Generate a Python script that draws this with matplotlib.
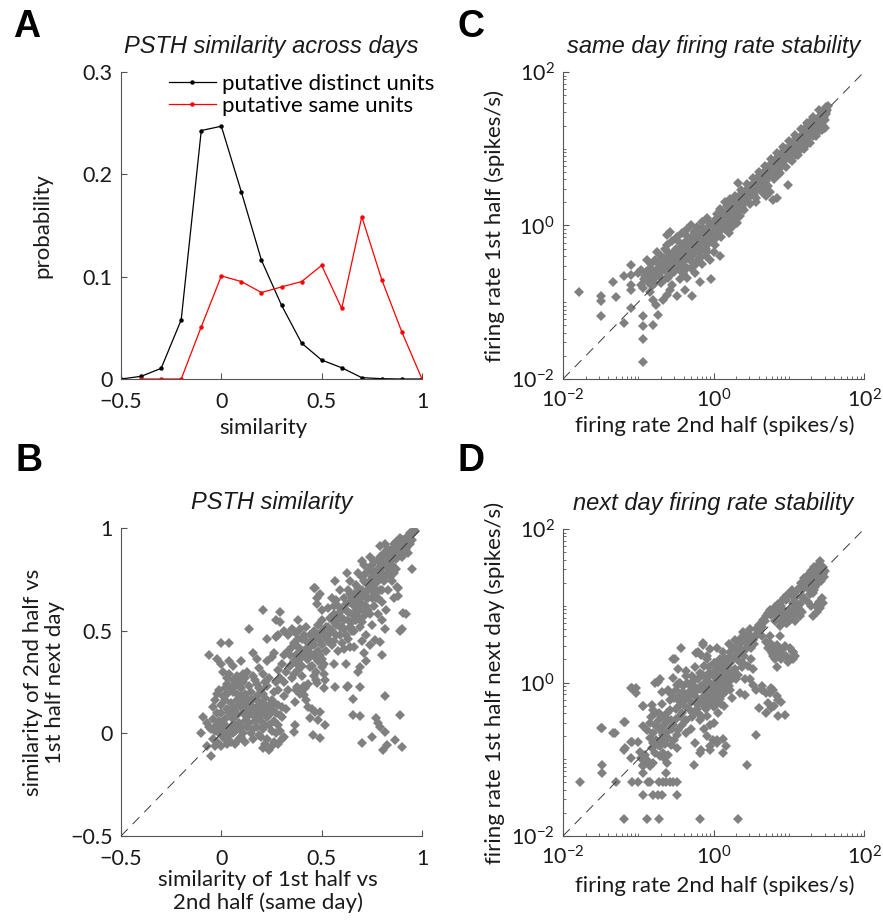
import matplotlib
matplotlib.use("Agg")
import matplotlib.pyplot as plt
import numpy as np
from matplotlib.ticker import FixedLocator, FixedFormatter, LogLocator, NullFormatter

# ---------------- data ----------------
# Panel A: PSTH similarity histogram
a_similarity = [-0.5, -0.4, -0.3, -0.2, -0.1, 0.0, 0.1, 0.2, 0.3, 0.4, 0.5, 0.6, 0.7, 0.8, 0.9, 1.0]
a_distinct = [0.0, 0.0026, 0.0104, 0.0578, 0.2428, 0.247, 0.1826, 0.116, 0.0721, 0.0351,
              0.0185, 0.011, 0.0013, 0.0003, 0.0, 0.0]
a_same_sim = [-0.4, -0.3, -0.2, -0.1, 0.0, 0.1, 0.2, 0.3, 0.4, 0.5, 0.6, 0.7, 0.8, 0.9, 1.0]
a_same = [0.0, 0.0, 0.0, 0.051, 0.1007, 0.0952, 0.0845, 0.090, 0.0952, 0.111, 0.0689, 0.1586,
          0.0968, 0.0458, 0.0]
a_labels = ["putative distinct units", "putative same units"]

# Panel B: (same-day similarity, next-day similarity)
b_points = [
    (-0.10, 0.00), (-0.09, 0.08), (-0.07, 0.05), (-0.06, 0.03), (-0.07, -0.06), (-0.05, -0.11), (-0.04, -0.03),
    (-0.03, 0.01), (-0.02, -0.04), (-0.01, 0.00), (0.00, -0.06), (0.01, -0.02), (0.02, -0.03), (0.03, -0.05),
    (-0.03, 0.16), (-0.02, 0.19), (-0.01, 0.21), (-0.04, 0.13), (0.00, 0.10), (-0.04, 0.07), (-0.01, 0.06),
    (-0.06, 0.38), (0.00, 0.44), (-0.02, 0.36), (0.00, 0.34), (0.04, 0.35), (0.06, 0.33), (0.04, 0.29),
    (0.03, 0.27), (0.06, 0.26), (0.08, 0.28), (0.10, 0.35), (0.11, 0.29), (0.06, 0.20), (0.08, 0.16),
    (0.10, 0.13), (0.11, 0.10), (0.13, 0.11), (0.14, 0.15), (0.15, 0.10), (0.16, 0.13), (0.18, 0.11),
    (0.19, 0.08), (0.21, 0.10), (0.12, 0.06), (0.06, 0.07), (0.09, 0.05), (0.13, 0.03), (0.16, 0.02),
    (0.20, -0.02), (0.23, -0.03), (0.26, -0.04), (0.30, -0.03), (0.31, -0.02), (0.21, -0.07), (0.24, -0.08),
    (0.16, 0.28), (0.18, 0.24), (0.20, 0.21), (0.21, 0.19), (0.23, 0.23), (0.25, 0.16), (0.26, 0.20),
    (0.28, 0.21), (0.30, 0.13), (0.31, 0.18), (0.33, 0.21), (0.16, 0.39), (0.18, 0.36), (0.19, 0.32),
    (0.21, 0.29), (0.23, 0.35), (0.25, 0.37), (0.26, 0.39), (0.28, 0.31), (0.30, 0.34), (0.31, 0.38),
    (0.27, 0.47), (0.28, 0.48), (0.31, 0.50), (0.33, 0.48), (0.35, 0.51), (0.37, 0.49), (0.39, 0.51),
    (0.21, 0.60), (0.29, 0.59), (0.27, 0.55), (0.29, 0.54), (0.14, 0.51), (0.23, 0.46), (0.04, 0.44),
    (0.01, 0.30), (0.02, 0.22), (0.05, 0.15), (0.03, 0.12), (0.07, 0.01), (0.10, -0.02), (0.12, 0.19),
    (0.14, 0.23), (0.10, 0.22), (0.08, 0.24), (0.13, 0.30), (0.15, 0.20), (0.17, 0.17), (0.19, 0.14),
    (0.22, 0.13), (0.24, 0.09), (0.26, 0.06), (0.28, 0.04), (0.17, 0.06), (0.22, 0.04), (0.25, 0.01),
    (0.02, 0.07), (0.05, 0.03), (0.08, 0.09),
    (-0.05, 0.02), (-0.03, -0.06), (-0.02, 0.04), (0.00, 0.02), (0.01, 0.05), (0.02, 0.01), (0.03, 0.03),
    (0.04, -0.01), (0.05, -0.04), (0.06, 0.00), (0.07, -0.05), (0.08, 0.02), (0.09, -0.03), (0.10, 0.03),
    (0.11, 0.00), (0.12, -0.04), (0.13, 0.08), (0.14, 0.05), (0.15, 0.00), (0.16, -0.03), (0.17, 0.09),
    (0.18, 0.03), (0.19, -0.01), (0.20, 0.06), (0.21, 0.02), (0.22, -0.05), (0.23, 0.08), (0.24, 0.04),
    (0.25, -0.06), (0.27, 0.00), (0.28, -0.05), (0.29, 0.01), (0.00, 0.14), (0.01, 0.18), (0.02, 0.16),
    (0.03, 0.19), (0.04, 0.10), (0.05, 0.22), (0.06, 0.13), (0.07, 0.11), (0.08, 0.19), (0.09, 0.14),
    (0.10, 0.18), (0.11, 0.15), (0.12, 0.13), (0.13, 0.17), (0.14, 0.12), (0.15, 0.16), (0.16, 0.09),
    (0.17, 0.12), (0.18, 0.16), (0.19, 0.19), (0.20, 0.12), (0.21, 0.15), (0.22, 0.17), (0.23, 0.11),
    (0.24, 0.14), (0.25, 0.12), (0.26, 0.15), (0.27, 0.10), (0.28, 0.14), (0.29, 0.09), (0.30, 0.08),
    (0.32, 0.12), (0.03, 0.24), (0.07, 0.23), (0.09, 0.26), (0.11, 0.25), (0.12, 0.27), (0.17, 0.26),
    (0.19, 0.22), (0.22, 0.25), (0.24, 0.27), (0.27, 0.25), (0.29, 0.27), (0.31, 0.25), (0.32, 0.30),
    (0.34, 0.33), (-0.02, 0.10), (-0.03, 0.03), (0.05, 0.09), (0.07, 0.04),
    (0.34, 0.38), (0.36, 0.35), (0.38, 0.31), (0.35, 0.27), (0.37, 0.21), (0.39, 0.19), (0.41, 0.23),
    (0.42, 0.16), (0.36, 0.44), (0.38, 0.42), (0.40, 0.46), (0.41, 0.40), (0.43, 0.36), (0.45, 0.33),
    (0.47, 0.30), (0.44, 0.48), (0.46, 0.43), (0.48, 0.40), (0.49, 0.45), (0.43, 0.24), (0.47, 0.26),
    (0.50, 0.36), (0.46, 0.71), (0.49, 0.68), (0.48, 0.53), (0.50, 0.50), (0.42, 0.52), (0.38, 0.55),
    (0.36, 0.50), (0.41, 0.48), (0.39, 0.41), (0.425, 0.36), (0.44, 0.325), (0.46, 0.28), (0.375, 0.34),
    (0.36, 0.29), (0.40, 0.28), (0.417, 0.227), (0.375, 0.227),
    (0.467, 0.707), (0.475, 0.66), (0.475, 0.63), (0.50, 0.60), (0.567, 0.74), (0.625, 0.78), (0.70, 0.84),
    (0.79, 0.91), (0.815, 0.92), (0.84, 0.88), (0.87, 0.886), (0.907, 0.943), (0.94, 0.976), (0.965, 0.983),
    (0.95, 0.80), (0.874, 0.715), (0.88, 0.67), (0.907, 0.585), (0.89, 0.50), (0.80, 0.55), (0.815, 0.51),
    (0.766, 0.455), (0.79, 0.447), (0.71, 0.39), (0.80, 0.38), (0.69, 0.325), (0.64, 0.42), (0.66, 0.42),
    (0.61, 0.41), (0.62, 0.34), (0.56, 0.34), (0.51, 0.34), (0.467, 0.374), (0.567, 0.227), (0.625, 0.227),
    (0.69, 0.227), (0.50, 0.325), (0.51, 0.29), (0.517, 0.26),
    (0.52, 0.47), (0.53, 0.52), (0.54, 0.56), (0.55, 0.50), (0.56, 0.58), (0.57, 0.53), (0.58, 0.62),
    (0.59, 0.48), (0.60, 0.56), (0.61, 0.66), (0.61, 0.51), (0.62, 0.60), (0.63, 0.70), (0.63, 0.55),
    (0.64, 0.64), (0.65, 0.58), (0.65, 0.50), (0.66, 0.68), (0.66, 0.62), (0.67, 0.55), (0.67, 0.72),
    (0.68, 0.65), (0.68, 0.59), (0.69, 0.52), (0.69, 0.70), (0.70, 0.63), (0.70, 0.76), (0.71, 0.57),
    (0.71, 0.68), (0.72, 0.73), (0.72, 0.62), (0.73, 0.79), (0.73, 0.66), (0.74, 0.58), (0.74, 0.71),
    (0.75, 0.76), (0.75, 0.82), (0.76, 0.68), (0.76, 0.62), (0.77, 0.78), (0.77, 0.73), (0.78, 0.84),
    (0.78, 0.66), (0.79, 0.80), (0.79, 0.75), (0.80, 0.86), (0.80, 0.70), (0.81, 0.82), (0.82, 0.77),
    (0.82, 0.88), (0.83, 0.84), (0.84, 0.80), (0.85, 0.90), (0.85, 0.85), (0.86, 0.78), (0.87, 0.93),
    (0.88, 0.88), (0.89, 0.91), (0.90, 0.86), (0.91, 0.94), (0.92, 0.90), (0.93, 0.95), (0.94, 0.92),
    (0.95, 0.97), (0.96, 0.99), (0.93, 0.88), (0.60, 0.44), (0.58, 0.40), (0.63, 0.46), (0.55, 0.43),
    (0.57, 0.65), (0.59, 0.70), (0.55, 0.66), (0.53, 0.61), (0.64, 0.74), (0.68, 0.78), (0.71, 0.82),
    (0.74, 0.86), (0.77, 0.70), (0.80, 0.64), (0.83, 0.70), (0.85, 0.74), (0.86, 0.66), (0.82, 0.60),
    (0.78, 0.58), (0.75, 0.53), (0.72, 0.48), (0.70, 0.45), (0.74, 0.43), (0.92, 0.58), (0.90, 0.51),
    (0.72, 0.35), (0.68, 0.30), (0.88, 0.71),
    (0.33, 0.40), (0.35, 0.42), (0.37, 0.38), (0.39, 0.36), (0.40, 0.33), (0.42, 0.45), (0.43, 0.42),
    (0.44, 0.39), (0.45, 0.45), (0.46, 0.50), (0.47, 0.47), (0.48, 0.35), (0.49, 0.38), (0.50, 0.43),
    (0.51, 0.48), (0.52, 0.40), (0.53, 0.45), (0.54, 0.49), (0.55, 0.55), (0.56, 0.45), (0.57, 0.48),
    (0.58, 0.55), (0.59, 0.52), (0.60, 0.60), (0.61, 0.55), (0.62, 0.48), (0.62, 0.63), (0.63, 0.59),
    (0.64, 0.52), (0.64, 0.68), (0.65, 0.66), (0.65, 0.54), (0.66, 0.58), (0.66, 0.50), (0.67, 0.62),
    (0.67, 0.68), (0.68, 0.56), (0.68, 0.71), (0.69, 0.62), (0.69, 0.66), (0.70, 0.54), (0.70, 0.70),
    (0.71, 0.60), (0.71, 0.74), (0.72, 0.66), (0.72, 0.78), (0.73, 0.70), (0.73, 0.60), (0.74, 0.74),
    (0.74, 0.80), (0.75, 0.66), (0.75, 0.72), (0.76, 0.78), (0.76, 0.84), (0.77, 0.75), (0.77, 0.66),
    (0.78, 0.80), (0.78, 0.76), (0.79, 0.86), (0.79, 0.70), (0.80, 0.82), (0.80, 0.78), (0.81, 0.88),
    (0.81, 0.74), (0.82, 0.84), (0.83, 0.80), (0.83, 0.90), (0.84, 0.86), (0.84, 0.76), (0.85, 0.82),
    (0.86, 0.88), (0.86, 0.92), (0.87, 0.85), (0.88, 0.92), (0.89, 0.87), (0.90, 0.90), (0.91, 0.92),
    (0.92, 0.95), (0.93, 0.92), (0.94, 0.96), (0.95, 0.94), (0.89, 0.95), (0.91, 0.88), (0.87, 0.80),
    (0.58, 0.58), (0.60, 0.52), (0.56, 0.62), (0.54, 0.45), (0.52, 0.52), (0.50, 0.55), (0.48, 0.48),
    (0.46, 0.38), (0.44, 0.42), (0.42, 0.40), (0.40, 0.38), (0.38, 0.46),
    (0.39, 0.21), (0.417, 0.22), (0.41, 0.187), (0.475, 0.244), (0.51, 0.22), (0.63, 0.23), (0.367, 0.154),
    (0.433, 0.13), (0.45, 0.12), (0.467, 0.105), (0.49, 0.105), (0.44, 0.073), (0.483, 0.065), (0.517, 0.04),
    (0.367, 0.04), (0.36, 0.008), (0.458, -0.008), (0.49, -0.024), (0.658, 0.167), (0.658, 0.089),
    (0.69, 0.086), (0.815, 0.182), (0.89, 0.089), (0.77, 0.073), (0.78, 0.049), (0.79, 0.032), (0.815, 0.008),
    (0.70, -0.049), (0.75, -0.016), (0.807, -0.08), (0.824, -0.057), (0.865, -0.033), (0.90, -0.065),
]

# Panel C: log10 firing rate (2nd half, 1st half), same day
c_log_points = [
    (-1.79, -0.87), (-1.49, -0.92), (-1.49, -0.99), (-1.49, -1.18), (-1.33, -0.73), (-1.30, -0.93),
    (-1.19, -0.66), (-1.19, -1.27), (-1.09, -0.51), (-1.09, -0.64), (-1.09, -0.77), (-1.09, -0.84),
    (-1.09, -1.08), (-0.94, -0.82), (-0.94, -1.18), (-0.94, -1.31), (-0.94, -1.48), (-0.94, -1.78),
    (-1.00, -0.62), (-0.96, -0.58), (-0.91, -0.66), (-0.87, -0.73), (-0.82, -0.79), (-0.78, -0.75),
    (-0.85, -0.86), (-0.80, -0.97), (-0.76, -1.03), (-0.74, -1.16), (-0.80, -1.29), (-0.67, -0.97),
    (-0.62, -0.90), (-0.58, -0.84), (-0.49, -0.92), (-0.38, -0.84), (-0.29, -0.92), (-0.18, -0.73),
    (-0.03, -0.70), (-0.62, -0.12), (-0.58, -0.08), (0.08, -0.40),
    (-0.85, -0.55), (-0.80, -0.60), (-0.78, -0.45), (-0.75, -0.65), (-0.72, -0.50), (-0.70, -0.40),
    (-0.68, -0.58), (-0.65, -0.70), (-0.63, -0.45), (-0.60, -0.35), (-0.58, -0.55), (-0.55, -0.62),
    (-0.52, -0.42), (-0.50, -0.30), (-0.48, -0.50), (-0.45, -0.58), (-0.43, -0.38), (-0.40, -0.25),
    (-0.38, -0.45), (-0.35, -0.55), (-0.33, -0.32), (-0.30, -0.20), (-0.28, -0.40), (-0.25, -0.28),
    (-0.23, -0.50), (-0.20, -0.15), (-0.18, -0.35), (-0.15, -0.22), (-0.13, -0.05), (-0.10, -0.30),
    (-0.08, -0.12), (-0.05, -0.20), (-0.03, 0.02), (0.00, -0.08), (0.02, -0.25), (0.03, 0.08),
    (0.05, -0.03), (0.08, 0.05), (0.10, -0.15), (0.12, 0.12), (-0.70, -0.75), (-0.60, -0.68),
    (-0.55, -0.78), (-0.45, -0.70), (-0.40, -0.62), (-0.35, -0.68), (-0.30, -0.55), (-0.25, -0.62),
    (-0.20, -0.45), (-0.15, -0.50), (-0.10, -0.40), (-0.05, -0.45), (0.00, -0.35), (-0.62, -0.25),
    (-0.55, -0.20), (-0.48, -0.15), (-0.42, -0.10), (-0.35, -0.05), (-0.30, 0.00), (-0.22, -0.02),
    (-0.15, 0.05), (-0.08, 0.10), (-0.50, -0.40), (-0.40, -0.35), (-0.30, -0.30), (-0.20, -0.25),
    (-0.10, -0.20), (-0.65, -0.30), (-0.75, -0.35), (-0.88, -0.45), (-0.92, -0.70), (-0.97, -0.78),
    (-0.90, -0.60), (-0.86, -0.65), (-0.83, -0.50), (-0.80, -0.70), (-0.77, -0.58), (-0.74, -0.48),
    (-0.71, -0.62), (-0.69, -0.52), (-0.66, -0.42), (-0.64, -0.58), (-0.61, -0.50), (-0.59, -0.40),
    (-0.57, -0.62), (-0.54, -0.48), (-0.52, -0.35), (-0.50, -0.55), (-0.47, -0.42), (-0.45, -0.30),
    (-0.43, -0.50), (-0.41, -0.40), (-0.39, -0.30), (-0.37, -0.20), (-0.35, -0.42), (-0.33, -0.25),
    (-0.31, -0.38), (-0.29, -0.15), (-0.27, -0.30), (-0.25, -0.20), (-0.23, -0.35), (-0.21, -0.10),
    (-0.19, -0.25), (-0.17, -0.15), (-0.15, -0.32), (-0.13, -0.20), (-0.11, -0.08), (-0.09, -0.25),
    (-0.07, -0.02), (-0.05, -0.10), (-0.03, -0.18), (-0.01, 0.00), (0.01, -0.12), (0.03, -0.05),
    (0.05, 0.05), (0.07, -0.08), (0.09, 0.10), (0.11, 0.00), (-0.45, -0.48), (-0.38, -0.55),
    (-0.28, -0.48), (-0.18, -0.42), (-0.08, -0.35), (0.02, -0.18), (-0.52, -0.60), (-0.60, -0.60),
    (-0.70, -0.68), (-0.46, -0.22), (-0.36, -0.12), (-0.26, -0.08), (-0.16, -0.05), (-0.06, 0.05),
    (0.04, 0.00),
    (0.10, 0.02), (0.12, 0.18), (0.14, 0.08), (0.15, -0.05), (0.17, 0.15), (0.18, 0.25), (0.20, 0.10),
    (0.22, 0.05), (0.23, 0.20), (0.25, 0.30), (0.26, 0.12), (0.28, 0.22), (0.30, 0.35), (0.31, 0.18),
    (0.33, 0.28), (0.35, 0.40), (0.36, 0.25), (0.38, 0.33), (0.40, 0.42), (0.41, 0.30), (0.43, 0.38),
    (0.45, 0.48), (0.46, 0.36), (0.48, 0.44), (0.50, 0.52), (0.20, -0.10), (0.25, -0.02), (0.30, 0.05),
    (0.05, 0.15), (0.08, 0.22), (0.15, 0.30), (0.22, 0.35),
    (0.52, 0.42), (0.54, 0.55), (0.55, 0.48), (0.57, 0.60), (0.58, 0.52), (0.60, 0.58), (0.62, 0.66),
    (0.63, 0.55), (0.65, 0.62), (0.67, 0.70), (0.68, 0.60), (0.70, 0.68), (0.72, 0.75), (0.73, 0.64),
    (0.75, 0.72), (0.77, 0.80), (0.78, 0.70), (0.80, 0.78), (0.82, 0.85), (0.83, 0.75), (0.85, 0.82),
    (0.87, 0.90), (0.88, 0.80), (0.90, 0.88), (0.92, 0.95), (0.93, 0.84), (0.95, 0.92), (0.97, 1.00),
    (0.98, 0.88), (1.00, 0.96), (0.60, 0.48), (0.65, 0.52), (0.70, 0.58), (0.80, 0.68), (0.90, 0.76),
    (1.02, 1.04), (1.03, 0.93), (1.05, 1.00), (1.07, 1.08), (1.08, 0.98), (1.10, 1.05), (1.12, 1.12),
    (1.13, 1.02), (1.15, 1.10), (1.17, 1.18), (1.18, 1.06), (1.20, 1.14), (1.22, 1.22), (1.23, 1.12),
    (1.25, 1.20), (1.27, 1.28), (1.28, 1.18), (1.30, 1.26), (1.32, 1.34), (1.33, 1.24), (1.35, 1.31),
    (1.37, 1.38), (1.38, 1.28), (1.40, 1.36), (1.42, 1.42), (1.43, 1.33), (1.45, 1.40), (1.47, 1.48),
    (1.48, 1.38), (1.50, 1.52), (1.52, 1.56), (1.50, 1.45), (1.46, 1.30), (1.44, 1.24), (1.10, 0.92),
    (1.15, 0.98), (1.20, 1.02),
    (0.12, 0.05), (0.13, -0.02), (0.16, 0.10), (0.17, 0.02), (0.19, 0.18), (0.21, 0.12), (0.22, 0.20),
    (0.24, 0.15), (0.26, 0.24), (0.27, 0.18), (0.29, 0.28), (0.30, 0.20), (0.32, 0.24), (0.34, 0.32),
    (0.35, 0.22), (0.37, 0.36), (0.39, 0.28), (0.40, 0.34), (0.42, 0.40), (0.44, 0.32), (0.45, 0.42),
    (0.47, 0.38), (0.49, 0.46), (0.50, 0.40), (0.52, 0.50), (0.53, 0.44), (0.55, 0.54), (0.56, 0.46),
    (0.58, 0.56), (0.59, 0.50), (0.61, 0.60), (0.62, 0.54), (0.64, 0.58), (0.66, 0.64), (0.67, 0.56),
    (0.69, 0.66), (0.71, 0.62), (0.72, 0.70), (0.74, 0.66), (0.76, 0.74), (0.77, 0.68), (0.79, 0.76),
    (0.81, 0.72), (0.82, 0.80), (0.84, 0.76), (0.86, 0.84), (0.87, 0.78), (0.89, 0.86), (0.91, 0.82),
    (0.92, 0.90), (0.94, 0.86), (0.96, 0.94), (0.97, 0.88), (0.99, 0.96), (1.01, 0.92), (1.02, 1.00),
    (1.04, 0.96), (1.06, 1.04), (1.07, 0.98), (1.09, 1.08), (1.11, 1.02), (1.12, 1.08), (1.14, 1.06),
    (1.16, 1.14), (1.17, 1.08), (1.19, 1.18), (1.21, 1.12), (1.22, 1.18), (1.24, 1.16), (1.26, 1.24),
    (1.27, 1.18), (1.29, 1.28), (1.31, 1.22), (1.32, 1.28), (1.34, 1.26), (1.36, 1.34), (1.37, 1.30),
    (1.39, 1.40), (1.41, 1.34), (1.42, 1.38), (1.44, 1.36), (1.46, 1.44), (1.47, 1.42), (1.49, 1.48),
    (1.51, 1.50),
    (0.20, 0.30), (0.28, 0.38), (0.36, 0.46), (0.44, 0.54), (0.52, 0.62), (0.60, 0.70), (0.68, 0.78),
    (0.76, 0.86), (0.84, 0.94), (0.92, 1.02), (1.00, 1.10), (1.08, 1.18), (1.16, 1.26), (1.24, 1.34),
    (1.32, 1.42), (1.40, 1.50), (0.24, 0.04), (0.32, 0.12), (0.40, 0.20), (0.48, 0.28), (0.56, 0.36),
    (0.64, 0.44), (0.72, 0.52), (0.80, 0.60), (0.88, 0.68), (0.96, 0.76), (1.04, 0.84), (1.12, 0.92),
    (1.20, 1.00), (1.28, 1.08), (1.36, 1.16), (0.22, 0.14), (0.30, 0.26), (0.38, 0.24), (0.46, 0.44),
    (0.54, 0.40), (0.62, 0.62), (0.70, 0.50), (0.78, 0.82), (0.86, 0.66), (0.94, 0.98), (1.02, 0.86),
    (1.10, 1.14), (1.18, 1.02), (1.26, 1.30), (1.34, 1.18), (1.42, 1.30),
    (1.50, 1.55), (1.44, 1.46), (1.37, 1.33), (1.28, 1.35), (1.24, 1.29), (1.48, 1.27), (1.37, 1.20),
    (1.32, 1.16), (1.26, 1.09), (0.99, 0.53), (0.75, 0.44), (0.70, 0.38), (0.79, 0.33), (0.84, 0.36),
    (0.57, 0.31), (0.33, 0.55), (0.31, 0.03), (0.35, 0.12),
]

# Panel D: log10 firing rate (2nd half, 1st half next day)
d_log_points = [
    (-1.78, -1.30), (-1.48, -0.59), (-1.48, -1.07), (-1.48, -1.18), (-1.33, -0.66), (-1.30, -1.30),
    (-1.19, -0.52), (-1.19, -0.88), (-1.19, -1.78), (-1.08, -0.07), (-1.03, -0.07), (-1.03, -0.14),
    (-1.08, -0.77), (-1.08, -1.30), (-1.00, -1.30), (-0.94, -0.31), (-0.94, -1.01), (-0.94, -1.09),
    (-0.94, -1.18), (-0.94, -1.47), (-0.88, -1.78), (-0.87, -1.30), (-0.84, -1.30), (-0.80, -1.47),
    (-0.74, -1.47), (-0.69, -1.47), (-0.72, -1.78), (-0.74, 0.01), (-0.72, -1.30), (-0.67, -1.30),
    (-0.63, -1.30), (-0.58, -1.30), (-0.54, -1.30), (-0.48, -1.30), (-0.48, -1.47), (-0.63, -1.18),
    (-0.54, 0.30), (-0.60, -0.10), (-0.58, -0.23), (-0.26, -1.07), (-0.18, -1.78), (0.32, -1.78),
    (0.44, -1.07), (0.56, -0.69),
    (0.65, -0.10), (0.75, -0.14), (0.79, -0.10), (0.72, -0.27), (0.76, -0.33), (0.81, -0.31),
    (0.86, -0.23), (0.90, -0.25), (0.95, -0.42), (0.86, -0.44), (0.61, -0.33), (0.70, -0.40),
    (0.13, -0.73), (0.17, -0.83), (0.13, -0.92), (0.04, -0.79), (-0.05, -0.88), (-0.18, -0.92),
    (-0.01, -0.75), (-0.09, -0.70),
    (1.44, 1.51), (1.46, 1.42), (1.37, 1.40), (1.24, 1.34), (1.21, 1.27), (1.28, 1.21), (1.32, 1.16),
    (1.35, 1.25), (1.46, 1.03), (1.41, 0.97), (1.37, 0.92), (1.32, 0.86), (1.01, 1.16), (1.06, 1.12),
    (0.97, 1.08), (1.10, 1.03), (1.15, 0.95), (1.06, 0.90), (1.01, 0.82), (0.97, 0.77), (0.93, 0.86),
    (0.88, 0.95), (0.82, 0.99), (0.75, 0.95), (0.70, 0.86), (0.66, 0.82),
    (0.88, 0.60), (0.84, 0.49), (0.93, 0.43), (0.97, 0.34), (0.90, 0.30), (1.01, 0.30), (1.06, 0.40),
    (0.79, 0.43), (0.75, 0.51), (0.70, 0.53),
    (0.62, 0.69), (0.57, 0.62), (0.64, 0.60), (0.39, 0.66), (0.37, 0.58), (0.44, 0.51), (0.50, 0.45),
    (0.33, 0.38), (0.26, 0.45), (0.22, 0.34), (0.31, 0.30), (0.39, 0.25), (0.46, 0.21), (0.53, 0.17),
    (-0.14, 0.51), (-0.05, 0.43), (0.04, 0.45), (-0.23, 0.38), (-0.09, 0.30), (0.00, 0.25), (0.08, 0.30),
    (0.13, 0.21), (0.17, 0.12),
    (0.57, -0.10), (0.64, -0.05), (0.77, -0.07), (0.84, -0.18), (0.70, -0.14), (0.48, 0.04), (0.53, -0.03),
    (0.42, -0.16), (0.35, -0.14),
    (-0.43, 0.45), (-0.14, 0.49), (-0.20, 0.40), (-0.16, 0.36), (-0.09, 0.34), (-0.51, 0.30), (-0.47, 0.17),
    (-0.78, 0.00), (-0.71, 0.04), (-0.69, -0.12), (-0.58, -0.14), (-0.49, -0.03), (-1.09, -0.07),
    (-0.94, -0.31), (-0.82, -0.29), (-0.80, -0.36), (-1.18, -0.51), (-1.49, -0.59), (-1.31, -0.66),
    (-1.18, -0.85), (-1.09, -0.77), (-1.00, -0.77), (-1.09, -0.98), (-0.96, -0.98), (-0.91, -0.94),
    (-0.98, -0.90),
    (-0.94, -0.57), (-0.89, -0.62), (-0.85, -0.53), (-0.80, -0.66), (-0.76, -0.57), (-0.71, -0.62),
    (-0.67, -0.68), (-0.62, -0.64), (-0.85, -0.72), (-0.80, -0.79), (-0.76, -0.75), (-0.71, -0.83),
    (-0.67, -0.92), (-0.71, -0.96), (-0.80, -1.05), (-0.85, -1.09), (-0.89, -1.01), (-0.94, -1.07),
    (-0.60, -0.94), (-0.62, -1.05),
    (-0.54, 0.06), (-0.45, -0.01), (-0.36, 0.09), (-0.27, 0.02), (-0.18, 0.13), (-0.09, 0.06), (0.00, 0.09),
    (0.04, 0.17), (-0.49, -0.20), (-0.40, -0.23), (-0.32, -0.16), (-0.23, -0.27), (-0.14, -0.20),
    (-0.05, -0.16), (0.04, -0.27), (-0.45, -0.44), (-0.36, -0.49), (-0.27, -0.40), (-0.18, -0.49),
    (-0.09, -0.44), (0.00, -0.53), (-0.36, -0.66), (-0.25, -0.79), (-0.16, -0.88), (-0.05, -0.83),
    (0.04, -0.75), (-0.58, -0.36), (-0.56, -0.49),
    (0.10, 0.00), (0.15, 0.08), (0.20, -0.05), (0.25, 0.10), (0.12, -0.15), (0.18, 0.20), (0.05, 0.05),
    (-0.02, -0.05), (0.08, 0.15), (0.22, 0.25), (0.28, 0.18), (0.30, 0.05), (0.02, 0.25), (-0.06, 0.20),
    (-0.10, -0.08), (0.14, -0.30), (0.24, -0.20), (0.06, -0.40), (-0.12, -0.60),
    (-0.50, -0.10), (-0.46, 0.00), (-0.44, -0.18), (-0.40, -0.05), (-0.38, -0.30), (-0.35, 0.00),
    (-0.33, -0.12), (-0.30, -0.25), (-0.28, 0.08), (-0.26, -0.05), (-0.24, -0.18), (-0.22, -0.35),
    (-0.20, 0.05), (-0.18, -0.08), (-0.16, -0.25), (-0.14, 0.10), (-0.12, -0.02), (-0.10, -0.15),
    (-0.08, -0.30), (-0.06, 0.12), (-0.04, 0.00), (-0.02, -0.12), (0.00, -0.25), (0.02, 0.15),
    (0.04, 0.02), (0.06, -0.10), (0.08, -0.22), (0.10, 0.10), (0.12, 0.05), (0.14, -0.05), (0.16, 0.15),
    (0.18, 0.00), (0.20, 0.10), (0.22, -0.10), (0.24, 0.05), (0.26, 0.15), (-0.42, -0.40), (-0.32, -0.35),
    (-0.20, -0.40), (-0.10, -0.35), (-0.46, -0.30), (-0.52, -0.20), (-0.36, 0.15), (-0.25, 0.20),
    (-0.12, 0.22), (0.06, 0.12), (0.12, 0.22), (-0.55, -0.60), (-0.48, -0.68), (-0.42, -0.55),
    (-0.30, -0.60), (-0.65, -0.45), (-0.72, -0.40), (-0.68, -0.28), (-0.62, -0.50),
    (-0.17, -0.05), (-0.15, -0.20), (-0.13, -0.10), (-0.11, 0.00), (-0.09, -0.22), (-0.07, -0.12),
    (-0.05, -0.03), (-0.03, -0.25), (-0.01, -0.15), (0.01, -0.05), (0.03, -0.20), (0.05, -0.10),
    (0.07, 0.02), (0.09, -0.15), (0.11, -0.05), (0.13, 0.04), (0.15, -0.12), (0.17, -0.02),
    (-0.20, -0.28), (-0.12, -0.30), (0.00, -0.32), (0.10, -0.28), (-0.25, -0.12), (-0.30, -0.05),
    (-0.35, -0.20), (-0.40, -0.12), (-0.45, -0.25), (-0.50, -0.35), (-0.28, -0.45), (-0.38, -0.50),
    (-0.15, -0.45), (-0.05, -0.55),
    (-0.83, -0.45), (-0.78, -0.40), (-0.74, -0.50), (-0.70, -0.45), (-0.66, -0.55), (-0.62, -0.40),
    (-0.58, -0.60), (-0.54, -0.55), (-0.50, -0.48), (-0.47, -0.62), (-0.82, -0.85), (-0.78, -0.92),
    (-0.74, -0.82), (-0.70, -0.75), (-0.65, -0.80), (-0.60, -0.72), (-0.56, -0.82), (-0.52, -0.75),
    (-0.48, -0.85), (-0.66, -0.98),
    (0.10, 0.25), (0.14, 0.32), (0.18, 0.28), (0.22, 0.40), (0.26, 0.30), (0.30, 0.45), (0.34, 0.52),
    (0.38, 0.40), (0.42, 0.55), (0.46, 0.48), (0.50, 0.60), (0.54, 0.50), (0.58, 0.62), (0.20, 0.50),
    (0.28, 0.55), (0.12, 0.40),
    (0.90, 0.80), (0.95, 0.85), (1.00, 0.90), (1.05, 0.95), (1.10, 0.98), (1.15, 1.02), (0.92, 0.95),
    (0.98, 0.78), (1.04, 0.85), (1.08, 0.80), (1.13, 0.88), (1.18, 0.92), (0.85, 0.88), (0.82, 0.80),
    (1.18, 1.20), (1.24, 1.25), (1.30, 1.35), (1.35, 1.42), (1.40, 1.48), (1.45, 1.50), (1.48, 1.45),
    (1.28, 1.15), (1.33, 1.20), (1.38, 1.28), (1.43, 1.32), (1.47, 1.38),
    (0.72, 0.45), (0.78, 0.38), (0.82, 0.30), (0.88, 0.42), (0.95, 0.48), (1.02, 0.45), (1.08, 0.35),
    (0.85, 0.20),
    (0.35, 0.45), (0.40, 0.35), (0.45, 0.55), (0.50, 0.30), (0.55, 0.60), (0.48, 0.70), (0.38, 0.20),
    (0.42, 0.05), (0.33, 0.10), (0.40, 0.65),
    (0.30, 0.35), (0.34, 0.28), (0.36, 0.52), (0.42, 0.42), (0.46, 0.62), (0.52, 0.55), (0.56, 0.70),
    (0.60, 0.75), (0.64, 0.72), (0.68, 0.80), (0.72, 0.90), (0.76, 0.88), (0.80, 0.95), (0.86, 1.02),
    (0.90, 1.00), (0.94, 1.10), (0.98, 1.14), (1.04, 1.20), (1.08, 1.16), (1.12, 1.22), (1.16, 1.30),
    (1.20, 1.36), (1.26, 1.40), (1.30, 1.45), (1.34, 1.50), (1.40, 1.55), (1.42, 1.58), (1.20, 1.10),
    (1.25, 1.05), (1.30, 1.00), (1.36, 1.00), (1.40, 1.05), (1.44, 1.10), (1.30, 1.30), (1.38, 1.35),
    (1.42, 1.45), (1.12, 1.00), (1.02, 0.95), (0.96, 0.92), (1.10, 1.12),
    (0.79, 0.90), (0.84, 0.99), (0.92, 1.08), (1.01, 1.16), (1.06, 1.03), (1.10, 0.95), (1.15, 0.86),
    (0.97, 0.82), (0.88, 0.73), (1.19, 1.25), (1.23, 1.34), (1.17, 1.12),
    (0.79, 0.47), (0.86, 0.38), (0.92, 0.34), (0.99, 0.27), (1.06, 0.30), (1.06, 0.40), (0.75, 0.60),
    (0.79, 0.34),
]

# ---------------- figure ----------------
plt.rcParams['font.family'] = ['Lato', 'DejaVu Sans']
plt.rcParams['mathtext.fontset'] = 'custom'
plt.rcParams['mathtext.rm'] = 'Lato'
plt.rcParams['mathtext.it'] = 'Lato:italic'
plt.rcParams['mathtext.bf'] = 'Lato:bold'
plt.rcParams['lines.scale_dashes'] = False

W, H = 883, 921
fig = plt.figure(figsize=(W / 100, H / 100), dpi=100)


def rect(l, t, r, b):
    return [l / W, 1 - b / H, (r - l) / W, (b - t) / H]


axA = fig.add_axes(rect(121, 72, 422, 379))
axC = fig.add_axes(rect(563, 72, 864, 379))
axB = fig.add_axes(rect(121, 528, 422, 836))
axD = fig.add_axes(rect(563, 529, 864, 836))

SPINE = '#555555'
TXT = '#1a1a1a'
GRAY = '#808080'
TICK_FS = 15.5
LABEL_FS = 16
TITLE_FS = 17


def style(ax):
    for s in ['top', 'right']:
        ax.spines[s].set_visible(False)
    for s in ['left', 'bottom']:
        ax.spines[s].set_color(SPINE)
        ax.spines[s].set_linewidth(0.8)
    ax.tick_params(which='major', direction='in', length=4, width=0.8, color=SPINE,
                   labelsize=TICK_FS, labelcolor=TXT)
    ax.tick_params(axis='y', which='major', pad=6)
    ax.tick_params(axis='x', which='major', pad=9)
    ax.tick_params(which='minor', direction='in', length=2.2, width=0.6, color=SPINE)


def title(ax, text):
    ax.set_title(text, fontsize=TITLE_FS, fontstyle='italic', family=['Liberation Sans'],
                 color=TXT, pad=14)


# ---- Panel A ----
style(axA)
axA.plot(a_similarity, a_distinct, color='k', lw=0.9, marker='o', ms=2.2, label=a_labels[0])
axA.plot(a_same_sim, a_same, color='#ff0000', lw=0.9, marker='o', ms=2.2, label=a_labels[1])
axA.set_xlim(-0.5, 1)
axA.set_ylim(0, 0.3)
axA.xaxis.set_major_locator(FixedLocator([-0.5, 0, 0.5, 1]))
axA.xaxis.set_major_formatter(FixedFormatter(['\u22120.5', '0', '0.5', '1']))
axA.yaxis.set_major_locator(FixedLocator([0, 0.1, 0.2, 0.3]))
axA.yaxis.set_major_formatter(FixedFormatter(['0', '0.1', '0.2', '0.3']))
axA.set_xlabel('similarity', fontsize=LABEL_FS, color=TXT)
axA.set_ylabel('probability', fontsize=LABEL_FS, color=TXT)
axA.xaxis.set_label_coords(0.473, -0.126)
axA.yaxis.set_label_coords(-0.229, 0.5)
title(axA, 'PSTH similarity across days')
axA.legend(loc='upper left', bbox_to_anchor=(169 / W, 1 - 74 / H), bbox_transform=fig.transFigure,
           frameon=False, fontsize=LABEL_FS, handlelength=2.1, handletextpad=0.3,
           labelspacing=0.08, borderpad=0, borderaxespad=0)

# ---- Panel B ----
style(axB)
b_x = [p[0] for p in b_points]
b_y = [p[1] for p in b_points]
axB.plot(b_x, b_y, linestyle='none', marker='D', ms=5, color=GRAY, mec=GRAY, mew=0, zorder=2)
axB.plot([-0.5, 1], [-0.5, 1], color='#3a3a3a', lw=0.7, dashes=(7, 5), zorder=3)
axB.set_xlim(-0.5, 1)
axB.set_ylim(-0.5, 1)
for axis in (axB.xaxis, axB.yaxis):
    axis.set_major_locator(FixedLocator([-0.5, 0, 0.5, 1]))
    axis.set_major_formatter(FixedFormatter(['\u22120.5', '0', '0.5', '1']))
axB.set_xlabel('similarity of 1st half vs\n2nd half (same day)', fontsize=LABEL_FS, color=TXT,
               linespacing=1.1)
axB.set_ylabel('similarity of 2nd half vs\n1st half next day', fontsize=LABEL_FS, color=TXT,
               linespacing=1.1)
axB.xaxis.set_label_coords(0.488, -0.112)
axB.yaxis.set_label_coords(-0.186, 0.5)
title(axB, 'PSTH similarity')


# ---- Panels C and D ----
def log_panel(ax, pts, ylabel, ttl):
    style(ax)
    xs = [10 ** p[0] for p in pts]
    ys = [10 ** p[1] for p in pts]
    ax.set_xscale('log')
    ax.set_yscale('log')
    ax.plot(xs, ys, linestyle='none', marker='D', ms=5, color=GRAY, mec=GRAY, mew=0, zorder=2)
    ax.plot([1e-2, 1e2], [1e-2, 1e2], color='#3a3a3a', lw=0.7, dashes=(7, 5), zorder=3)
    ax.set_xlim(1e-2, 1e2)
    ax.set_ylim(1e-2, 1e2)
    for axis in (ax.xaxis, ax.yaxis):
        axis.set_major_locator(FixedLocator([1e-2, 1e0, 1e2]))
        axis.set_major_formatter(FixedFormatter([r'$10^{-2}$', r'$10^{0}$', r'$10^{2}$']))
        axis.set_minor_locator(LogLocator(base=10, subs=np.arange(1, 10)))
        axis.set_minor_formatter(NullFormatter())
    ax.tick_params(axis='x', which='major', pad=7)
    ax.set_xlabel('firing rate 2nd half (spikes/s)', fontsize=LABEL_FS, color=TXT)
    ax.set_ylabel(ylabel, fontsize=LABEL_FS, color=TXT)
    title(ax, ttl)


log_panel(axC, c_log_points, 'firing rate 1st half (spikes/s)', 'same day firing rate stability')
axC.xaxis.set_label_coords(0.505, -0.117)
axC.yaxis.set_label_coords(-0.193, 0.5)
log_panel(axD, d_log_points, 'firing rate 1st half next day (spikes/s)', 'next day firing rate stability')
axD.xaxis.set_label_coords(0.505, -0.127)
axD.yaxis.set_label_coords(-0.193, 0.5)

# panel letters
for letter, x, y in [('A', 13, 37), ('C', 457, 37), ('B', 15, 471), ('D', 457, 471)]:
    fig.text(x / W, 1 - y / H, letter, fontsize=27, fontweight='bold', family=['Liberation Sans'],
             color='k', va='baseline', ha='left')

fig.savefig('out.png', dpi=100)
